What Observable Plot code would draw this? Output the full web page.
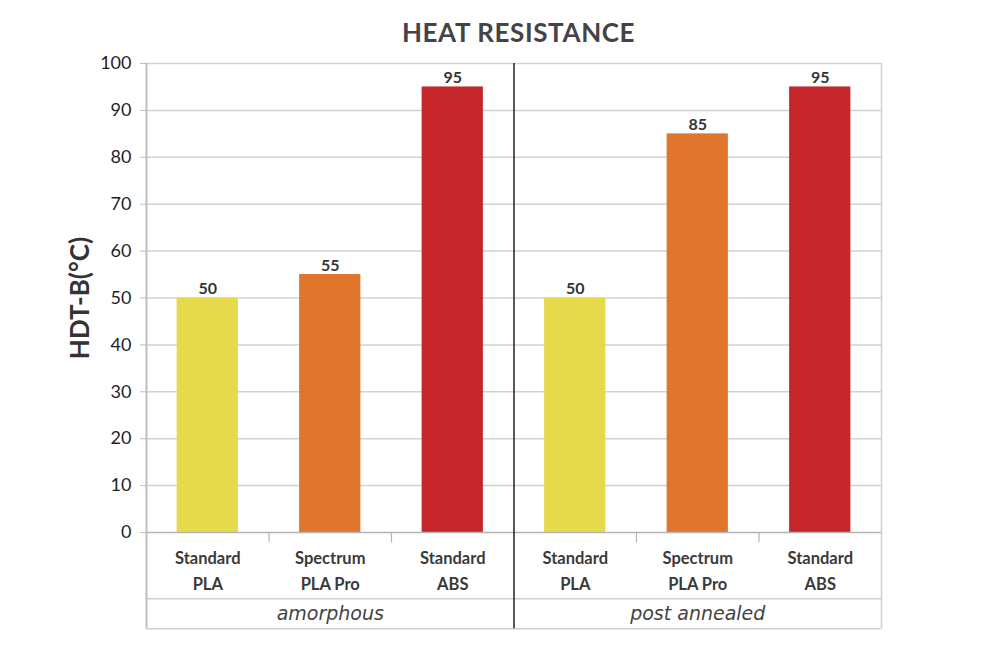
<!DOCTYPE html>
<html>
<head>
<meta charset="utf-8">
<script src="https://cdn.jsdelivr.net/npm/d3@7"></script>
<script src="https://cdn.jsdelivr.net/npm/@observablehq/plot@0.6"></script>
<style>
  html, body { margin: 0; padding: 0; background: #fff; }
  #title { width: 1007px; height: 50px; box-sizing: border-box; padding-left: 30px; padding-top: 14px;
           text-align: center; font-family: Lato, "Open Sans", sans-serif; font-weight: bold;
           font-size: 26px; letter-spacing: 0.6px; color: #444; line-height: 36px; }
  #chart svg { display: block; }
</style>
</head>
<body>
<div id="title">HEAT RESISTANCE</div>
<div id="chart"></div>
<script>
const groups = ["amorphous", "post annealed"];
const materials = ["Standard\nPLA", "Spectrum\nPLA Pro", "Standard\nABS"];
const amorphousValues = [50, 55, 95];
const postAnnealedValues = [50, 85, 95];
const materialColors = ["#e6d94a", "#e0752d", "#c4262b"];
const yTicks = [0, 10, 20, 30, 40, 50, 60, 70, 80, 90, 100];
const yLabel = "HDT-B(°C)";

const seriesByGroup = [amorphousValues, postAnnealedValues];
const rows = [];
groups.forEach((g, gi) => {
  materials.forEach((m, mi) => {
    rows.push({ i: gi * materials.length + mi, group: g, gi, material: m, value: seriesByGroup[gi][mi], color: materialColors[mi] });
  });
});
const n = rows.length;
const groupRows = groups.map((g, gi) => ({ group: g, gi }));
// table rows below the plot (in y data units, extending below 0)
const rowLine = -14.1, tableBottom = -20.5;
const innerTicks = d3.range(1, n).filter(k => k % materials.length !== 0);

const chart = Plot.plot({
  width: 1007,
  height: 605,
  marginLeft: 146,
  marginRight: 126,
  marginTop: 13,
  marginBottom: 123,
  x: { domain: [0, n], axis: null },
  y: { domain: [0, 100] },
  color: { type: "identity" },
  style: { fontFamily: "Lato, 'Open Sans', sans-serif", background: "#fff", overflow: "visible" },
  marks: [
    Plot.ruleY(yTicks.filter(t => t > 0), { stroke: "#d2d2d2", strokeWidth: 1.5 }),
    Plot.rectY(rows, { x1: d => d.i + 0.25, x2: d => d.i + 0.75, y: "value", fill: "color" }),
    Plot.text(rows, { x: d => d.i + 0.5, y: "value", text: d => String(d.value), lineAnchor: "bottom", dy: -4,
      fontSize: 16, fontWeight: "bold", fill: "#333" }),
    // baseline and table horizontal lines
    Plot.ruleY([0], { stroke: "#b4b4b4", strokeWidth: 1.5 }),
    Plot.ruleY([rowLine, tableBottom], { x1: 0, x2: n, stroke: "#cfcfcf", strokeWidth: 1.5 }),
    // outer borders
    Plot.ruleX([0], { y1: 100, y2: tableBottom, stroke: "#bdbdbd", strokeWidth: 2 }),
    Plot.ruleX([n], { y1: 100, y2: tableBottom, stroke: "#cfcfcf", strokeWidth: 1.5 }),
    // category ticks
    Plot.ruleX(innerTicks, { y1: 0, y2: -2.2, stroke: "#b4b4b4", strokeWidth: 1.2 }),
    // group divider
    Plot.ruleX(groups.slice(1).map((g, k) => (k + 1) * materials.length), { y1: 100, y2: tableBottom, stroke: "#222", strokeWidth: 1.5 }),
    // category labels
    Plot.text(rows, { x: d => d.i + 0.5, y: -7.8, text: "material", lineHeight: 1.55,
      fontSize: 16.5, fontWeight: "bold", fill: "#3a3a3a" }),
    // group labels
    Plot.text(groupRows, { x: d => d.gi * materials.length + materials.length / 2, y: -17.3, text: "group",
      fontSize: 19, fontStyle: "italic", fill: "#444", fontFamily: "'DejaVu Sans', sans-serif" }),
    Plot.axisY(yTicks, { tickSize: 6, tickPadding: 9, stroke: "#bdbdbd", fill: "#1e1e2a", fontSize: 18, label: null }),
    Plot.text([yLabel], { frameAnchor: "left", textAnchor: "middle", dx: -66, rotate: -90, text: d => d,
      fontSize: 26, fontWeight: "bold", fill: "#333" })
  ]
});
document.getElementById("chart").appendChild(chart);
</script>
</body>
</html>
